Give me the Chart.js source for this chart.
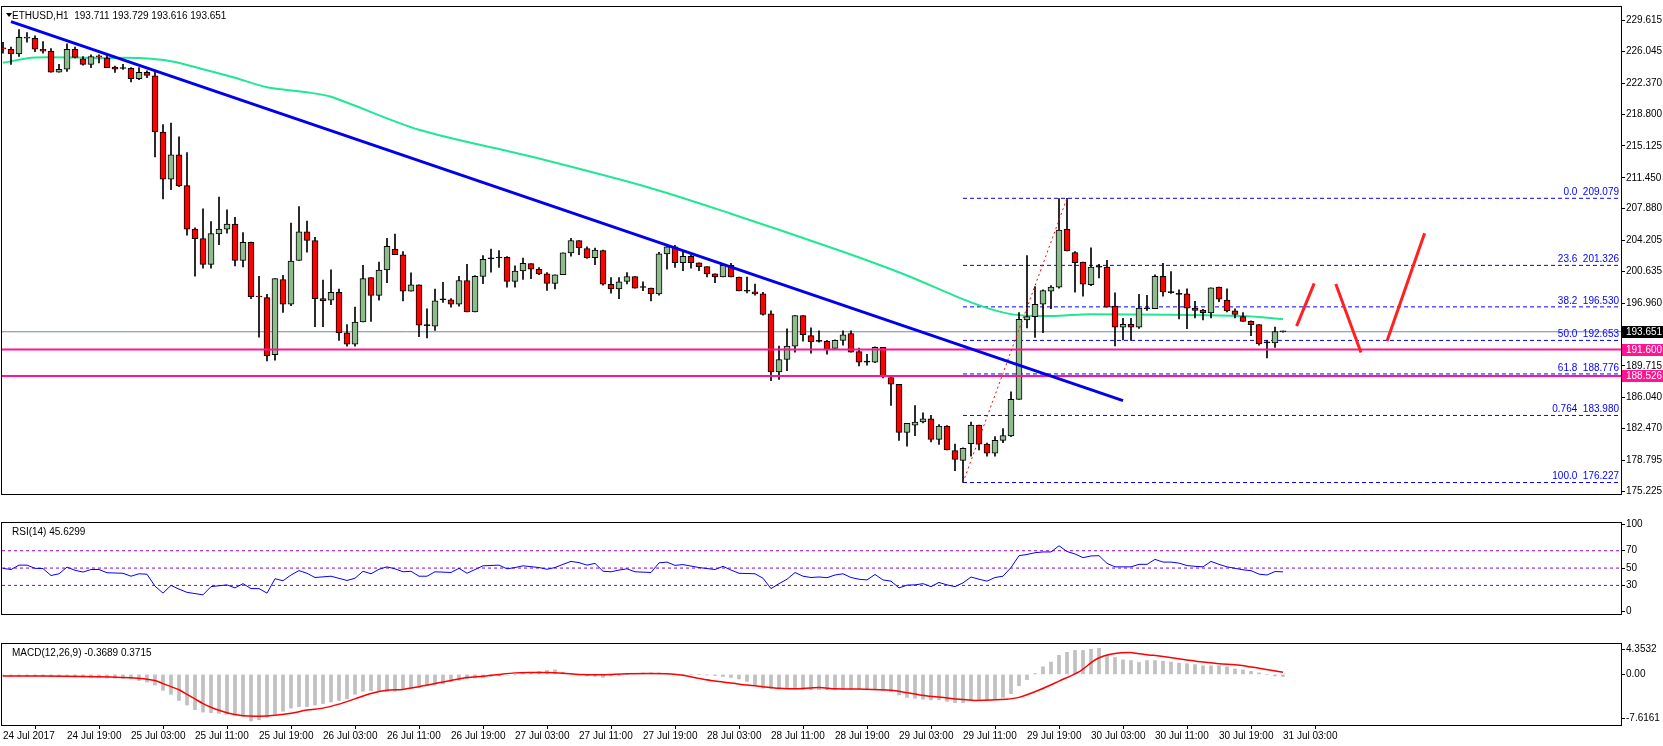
<!DOCTYPE html>
<html>
<head>
<meta charset="utf-8">
<script src="https://cdn.jsdelivr.net/npm/chart.js@4.4.1/dist/chart.umd.min.js"></script>
<style>
  body { margin: 0; background: #fff; width: 1663px; height: 746px; overflow: hidden; position: relative; }
  canvas { position: absolute; left: 0; }
</style>
</head>
<body>
<canvas id="mainChart" width="1663" height="516" style="top:0"></canvas>
<canvas id="rsiChart" width="1663" height="121" style="top:516px"></canvas>
<canvas id="macdChart" width="1663" height="109" style="top:637px"></canvas>
<script>
// ETHUSD H1, candle 0 = 24 Jul 2017 11:00
const opens = [
226.40,226.31,225.76,227.67,227.56,226.31,226.09,223.67,224.00,226.31,
225.21,224.55,225.45,225.29,224.26,224.08,224.11,222.90,223.64,223.23,
216.74,211.28,214.10,210.54,205.52,204.42,201.45,204.97,205.52,206.11,
201.89,203.98,197.71,197.60,191.00,199.69,196.83,201.89,205.19,204.20,
197.49,197.30,198.22,193.53,192.21,194.78,199.91,197.85,200.79,203.21,
202.55,198.33,199.07,194.37,194.30,197.34,197.34,196.83,199.58,195.95,
200.05,202.07,202.18,202.25,199.47,200.68,201.52,200.90,200.35,199.25,
200.24,202.77,204.20,203.28,202.22,203.03,199.14,198.59,199.47,200.02,
198.77,198.70,198.04,202.66,203.47,201.63,202.37,201.63,201.19,200.35,
199.98,201.34,199.98,198.33,198.26,198.04,195.73,189.02,190.45,191.99,
195.51,193.20,192.54,192.54,191.73,192.65,193.45,191.36,190.15,190.15,
191.84,188.36,187.59,182.01,182.86,183.22,183.59,181.21,182.75,179.92,
178.79,180.73,182.86,180.66,179.63,181.10,181.61,185.83,195.03,195.40,
196.83,198.33,198.81,205.48,202.80,201.70,199.10,201.12,201.12,196.61,
194.19,194.52,194.19,196.31,196.31,200.05,198.18,197.97,198.04,196.39,
196.17,195.84,198.81,197.30,196.06,195.40,194.85,194.48,192.36,192.36,
193.711];
const highs = [
227.12,226.57,228.59,228.22,227.85,227.19,226.39,224.55,226.94,226.57,
225.47,225.65,225.65,225.65,224.37,224.55,224.19,224.19,223.82,223.64,
217.59,217.77,216.19,214.36,205.67,207.87,206.40,209.22,207.76,206.88,
205.12,204.02,200.06,197.97,199.80,200.17,206.22,208.13,206.44,204.57,
199.62,200.82,198.59,194.48,196.50,201.34,199.91,201.70,204.45,204.93,
202.92,200.46,199.07,196.31,198.59,199.36,197.49,200.05,201.45,200.16,
202.47,203.21,203.03,202.33,201.26,202.18,201.52,201.08,200.49,200.24,
202.77,204.45,204.20,203.47,203.32,203.10,199.91,199.91,200.49,200.02,
199.43,198.70,202.84,203.65,203.65,202.99,202.55,201.63,201.19,200.35,
201.45,201.56,199.98,199.98,199.17,198.22,196.06,191.99,194.00,195.51,
195.51,194.11,193.75,192.65,192.72,193.75,193.75,191.77,191.03,191.91,
191.84,188.43,187.59,183.08,185.13,184.29,183.99,182.93,182.82,180.66,
180.25,183.22,182.86,180.80,181.54,182.45,186.71,195.87,202.47,198.88,
198.51,198.99,209.04,209.08,202.91,201.70,203.35,201.45,201.92,198.15,
195.21,195.21,197.97,197.86,200.24,201.56,200.60,198.51,198.62,197.16,
196.24,198.73,198.81,198.62,196.31,195.88,194.92,194.48,192.65,194.19,
193.729];
const lows = [
225.84,224.55,225.47,227.12,226.02,225.84,223.67,223.67,223.75,225.29,
224.48,224.19,224.74,224.19,223.64,223.97,222.54,222.79,223.01,213.85,
209.00,210.07,210.43,204.82,200.09,201.01,201.01,203.72,205.04,201.27,
201.16,197.49,193.02,190.27,190.38,195.88,196.68,201.89,202.84,194.23,
194.23,196.79,192.65,191.99,191.99,194.78,194.85,197.30,199.32,202.55,
197.23,198.33,193.09,192.94,193.82,197.05,196.50,196.61,195.95,195.95,
199.21,200.53,201.08,198.81,198.81,199.69,199.80,200.24,198.44,198.59,
200.24,202.40,202.55,202.14,201.41,199.03,198.11,197.49,199.17,198.70,
198.40,197.23,197.89,200.90,201.08,200.72,201.01,200.72,199.98,199.32,
199.98,199.98,198.37,198.15,197.89,195.58,187.99,188.14,189.16,191.29,
192.57,191.18,192.46,191.07,191.73,192.10,191.29,189.71,189.79,190.08,
188.32,185.13,181.10,180.44,181.65,183.11,180.92,180.62,180.00,177.61,
176.23,179.26,180.00,179.26,179.26,180.84,181.54,185.83,194.11,193.01,
193.56,196.31,198.70,202.99,198.22,197.78,198.99,199.87,196.50,192.02,
192.72,192.65,194.04,196.13,196.31,197.78,198.07,195.14,194.00,195.25,
195.03,195.25,197.12,195.95,195.25,194.85,193.20,192.10,190.63,191.84,
193.616];
const closes = [
226.35,225.76,227.67,227.60,226.31,226.09,223.67,224.00,226.31,225.36,
224.55,225.47,225.43,224.19,224.00,224.08,222.90,223.64,223.27,216.74,
211.28,214.10,210.54,205.52,204.42,201.45,205.01,205.52,206.11,201.89,
203.98,197.71,197.67,190.89,199.80,196.83,201.82,205.19,204.20,197.49,
197.23,198.22,193.53,192.21,194.78,199.80,197.85,200.79,203.54,202.55,
198.33,199.07,194.41,194.37,197.23,197.34,196.83,199.58,195.95,200.05,
202.03,202.07,202.18,199.47,200.68,201.56,200.90,200.35,199.25,200.24,
202.77,204.20,203.36,202.22,203.10,199.14,198.59,199.43,200.02,198.70,
198.77,198.04,202.66,203.47,201.63,202.37,201.63,201.19,200.35,199.98,
201.34,199.98,198.37,198.33,198.04,195.65,189.02,190.45,191.99,195.51,
193.31,192.50,192.54,191.62,192.65,193.31,191.29,190.15,190.15,191.84,
188.43,187.59,182.01,183.08,183.22,183.59,181.21,182.75,180.00,178.90,
180.18,182.86,180.66,179.63,181.10,181.65,185.83,195.10,195.40,196.83,
198.40,198.81,205.41,202.99,201.63,199.14,201.12,201.12,196.50,194.19,
194.52,194.19,196.39,196.31,200.05,198.26,198.18,197.97,196.39,196.13,
195.87,198.73,197.41,196.06,195.65,194.85,194.48,192.28,192.36,193.68,
193.651];

// moving average (green) read at some candles
const maIdx = [0, 4, 12, 17, 21, 25, 29, 33, 38, 41, 52, 66, 81, 91, 105, 113, 121, 126, 131, 136, 155, 160];
const maVal = [224.74, 225.36, 225.29, 225.29, 224.92, 224.0, 223.01, 221.91, 221.33, 220.81, 217.0, 213.9, 210.25, 207.3, 202.9, 200.16, 197.05, 195.69, 195.47, 195.69, 195.47, 195.1];

// trend line, support lines, fibo levels
const trendIdx = [1, 140];
const trendVal = [229.5, 185.7];
const supports = [191.600, 188.526];
const lastPrice = 193.651;
const fibNames = ['0.0', '23.6', '38.2', '50.0', '61.8', '0.764', '100.0'];
const fibLevels = [209.079, 201.326, 196.530, 192.653, 188.776, 183.980, 176.227];
const fibFrom = 120;
const swingIdx = [120, 133];
const swingVal = [176.227, 209.079];
// hand drawn scenario
const pathIdx = [[161.7, 163.9], [166.6, 169.75], [173.0, 177.7]];
const pathVal = [[194.30, 199.25], [199.18, 191.26], [192.58, 205.04]];

const priceTicks = [229.615, 226.045, 222.370, 218.800, 215.125, 211.450, 207.880, 204.205, 200.635, 196.960, 189.715, 186.040, 182.470, 178.795, 175.225];

// RSI(14)
const rsiIdx = [0,1,2,3,4,5,6,7,8,9,10,11,12,13,15,16,17,18,19,20,21,22,23,25,26,28,29,30,31,32,33,34,35,36,37,38,39,41,43,44,45,46,47,48,49,50,51,52,53,54,56,57,58,60,62,63,64,65,67,68,69,70,71,72,73,74,75,76,77,78,79,81,82,83,84,85,87,89,90,91,92,94,95,96,97,98,99,100,101,102,103,104,105,106,107,108,109,110,111,112,113,114,115,116,117,118,119,120,121,122,123,124,125,126,127,128,129,130,131,132,133,134,135,136,137,138,139,140,141,142,143,144,145,146,147,148,149,150,151,152,153,154,155,156,157,158,159,160];
const rsiVal = [49.7,48.3,53.4,53.4,49.7,49.4,41.4,43.4,51.1,47.4,45.4,48.3,48.3,44.6,44.0,40.6,43.4,42.9,29.1,21.1,30.0,25.7,22.0,19.1,28.6,30.6,27.1,32.0,26.3,26.3,21.1,37.7,35.4,42.0,47.1,44.0,39.1,40.6,35.7,38.3,46.3,43.4,48.6,51.4,49.1,45.7,46.3,40.6,40.6,45.7,44.9,49.7,44.0,52.6,53.4,49.1,50.6,52.6,50.6,48.6,50.6,54.3,57.7,56.3,53.4,55.4,46.3,45.7,47.7,49.1,45.7,44.9,56.0,56.9,53.1,54.0,50.6,48.3,52.0,47.7,44.0,43.4,38.3,26.3,32.0,37.1,44.9,40.6,39.1,39.7,38.9,42.0,43.4,39.1,37.1,36.3,42.6,36.3,34.9,27.1,30.3,30.6,32.0,28.6,33.4,30.6,28.6,32.9,39.7,37.1,34.9,39.1,40.6,50.6,64.3,65.7,67.7,68.6,68.6,75.7,69.1,66.3,62.0,64.0,64.3,55.4,51.4,51.4,51.4,54.3,54.3,60.0,56.9,56.9,55.7,52.9,52.0,51.4,57.7,54.3,51.4,49.7,48.0,47.0,43.0,42.0,46.0,45.63];
const rsiLevels = [70, 50, 30];

// MACD(12,26,9): main as histogram, signal as line
const macdMain = [
-0.30,-0.30,-0.30,-0.35,-0.35,-0.40,-0.40,-0.40,-0.40,-0.45,
-0.45,-0.50,-0.50,-0.63,-0.65,-0.69,-0.79,-1.06,-1.32,-1.85,
-2.75,-3.44,-4.50,-5.29,-6.08,-6.51,-6.61,-6.72,-6.88,-7.04,
-7.25,-8.04,-7.83,-7.41,-6.88,-6.35,-5.82,-5.56,-5.56,-5.29,
-5.03,-4.76,-4.50,-4.23,-3.44,-2.91,-2.80,-2.80,-2.91,-2.91,
-2.65,-2.38,-2.22,-2.01,-1.85,-1.59,-1.22,-1.06,-0.79,-0.63,
-0.53,-0.37,-0.26,-0.11,-0.05,0.16,0.37,0.53,0.69,0.79,
0.37,0.16,-0.05,-0.26,-0.37,-0.53,-0.26,-0.16,0.00,0.16,
0.26,0.26,0.26,0.11,0.00,-0.05,0.00,0.00,-0.11,-0.21,
-0.37,-0.53,-0.79,-1.22,-1.85,-2.38,-2.49,-2.54,-2.38,-2.54,
-2.59,-2.65,-2.65,-2.65,-2.65,-2.54,-2.54,-2.54,-2.65,-2.65,
-2.80,-2.91,-3.54,-3.97,-4.13,-4.29,-4.39,-4.39,-4.66,-4.87,
-4.87,-4.50,-4.50,-4.50,-4.34,-3.97,-3.33,-1.96,-0.90,0.16,
1.32,2.12,3.28,3.81,4.13,4.13,4.34,4.50,3.33,2.91,
2.49,2.38,2.06,2.38,2.38,2.28,2.12,1.96,1.85,1.69,
1.48,1.48,1.48,1.32,0.95,0.79,0.53,0.26,0.00,-0.26,
-0.3689];
const sigIdx = [0,10,16,19,20,21,22,23,24,25,26,27,28,29,30,32,34,36,38,40,42,44,46,48,50,52,54,56,58,60,62,64,66,68,70,72,75,78,83,85,87,89,91,93,95,97,99,102,104,107,111,113,114.6,118,120,121.7,125.4,127,129.6,132,134.6,136.7,138.8,140.9,142,143.8,145.9,148,150,152,154.6,157,160];
const sigVal = [-0.26,-0.35,-0.6,-1.06,-1.59,-2.12,-2.65,-3.44,-4.23,-5.03,-5.66,-6.19,-6.61,-6.93,-7.14,-7.2,-7.04,-6.72,-6.14,-5.82,-5.13,-4.23,-3.31,-2.75,-2.59,-2.12,-1.59,-1.06,-0.53,-0.32,0,0.26,0.32,0.32,0.21,0,-0.05,0.11,0.11,-0.16,-0.69,-1.16,-1.48,-1.85,-2.12,-2.38,-2.49,-2.28,-2.49,-2.54,-2.75,-3.17,-3.54,-4.07,-4.34,-4.5,-4.29,-3.97,-2.65,-1.16,0.53,2.65,3.54,3.76,3.54,3.28,2.91,2.49,2.12,1.85,1.59,1.06,0.3715];

const timeLabels = ['24 Jul 2017','24 Jul 19:00','25 Jul 03:00','25 Jul 11:00','25 Jul 19:00','26 Jul 03:00','26 Jul 11:00','26 Jul 19:00','27 Jul 03:00','27 Jul 11:00','27 Jul 19:00','28 Jul 03:00','28 Jul 11:00','28 Jul 19:00','29 Jul 03:00','29 Jul 11:00','29 Jul 19:00','30 Jul 03:00','30 Jul 11:00','30 Jul 19:00','31 Jul 03:00'];

Chart.defaults.font.family = '"Liberation Sans", Arial, sans-serif';
Chart.defaults.font.size = 10;
Chart.defaults.color = '#000';
Chart.defaults.animation = false;

const X_MIN = -0.125, X_MAX = 202.25;
const FONT = '10px "Liberation Sans", Arial, sans-serif';

function pts(xs, ys) { return xs.map((x, i) => ({ x: x, y: ys[i] })); }
function line(data, color, width, extra) {
	return Object.assign({ type: 'line', data: data, borderColor: color, borderWidth: width, pointRadius: 0, fill: false, order: 0 }, extra || {});
}
function xAxis(show) {
	return {
		type: 'linear', min: X_MIN, max: X_MAX, display: show, offset: false,
		grid: { display: show, drawOnChartArea: false, color: '#000', tickLength: 4 },
		border: { display: false },
		afterBuildTicks: s => { s.ticks = timeLabels.map((t, i) => ({ value: i * 8 })); },
		afterFit: s => { s.height = 21; },
		ticks: { align: 'start', maxRotation: 0, autoSkip: false, padding: 1, callback: v => timeLabels[v / 8] }
	};
}
function yAxis(min, max, ticks, fmt) {
	return {
		position: 'right', min: min, max: max,
		grid: { drawOnChartArea: false, color: '#000', tickLength: 4 },
		border: { display: true, color: '#000' },
		afterBuildTicks: s => { s.ticks = ticks.map(v => ({ value: v })); },
		afterFit: s => { s.width = 42; },
		ticks: { padding: 1, autoSkip: false, callback: fmt }
	};
}
// frame + texts
function frame(texts) {
	return {
		id: 'frame',
		afterDraw(chart) {
			const { ctx, chartArea: a } = chart;
			ctx.save();
			ctx.strokeStyle = '#000';
			ctx.lineWidth = 1;
			ctx.strokeRect(a.left - 0.5, a.top - 0.5, a.right - a.left + 1, a.bottom - a.top + 1);
			ctx.font = FONT;
			ctx.fillStyle = '#000';
			ctx.textBaseline = 'middle';
			ctx.fillText(texts, a.left + 10, a.top + 9);
			ctx.restore();
		}
	};
}

const upColor = '#8fbc8f', downColor = '#ff0000';
const candleColors = closes.map((c, i) => c > opens[i] ? upColor : (c < opens[i] ? downColor : '#000'));

const mainExtras = {
	id: 'mainExtras',
	afterDraw(chart) {
		const { ctx, chartArea: a, scales } = chart;
		const y = scales.y;
		ctx.save();
		// triangle before title
		ctx.fillStyle = '#000';
		ctx.beginPath();
		ctx.moveTo(a.left + 4, a.top + 6); ctx.lineTo(a.left + 10, a.top + 6); ctx.lineTo(a.left + 7, a.top + 10);
		ctx.fill();
		// fibo labels
		ctx.font = FONT;
		ctx.fillStyle = '#0000ff';
		ctx.textAlign = 'right';
		ctx.textBaseline = 'bottom';
		fibLevels.forEach((v, i) => {
			ctx.fillText(fibNames[i] + '  ' + v.toFixed(3), a.right - 2, y.getPixelForValue(v) - 1);
		});
		// price boxes on the axis
		ctx.textAlign = 'left';
		ctx.textBaseline = 'middle';
		const box = (v, bg) => {
			const py = Math.round(y.getPixelForValue(v));
			ctx.fillStyle = bg;
			ctx.fillRect(a.right + 1, py - 6, 41, 12);
			ctx.fillStyle = '#fff';
			ctx.fillText(v.toFixed(3), a.right + 5, py);
		};
		box(lastPrice, '#000');
		supports.forEach(v => box(v, '#ff1493'));
		ctx.restore();
	}
};

const mainDatasets = [
	{ type: 'bar', data: lows.map((l, i) => ({ x: i, y: [l, highs[i]] })), backgroundColor: '#000', barThickness: 1, grouped: false, order: 3 },
	{ type: 'bar', data: opens.map((o, i) => ({ x: i, y: [o, closes[i]] })), backgroundColor: candleColors, borderColor: '#000', borderWidth: 1, borderSkipped: false, barThickness: 6, minBarLength: 1, grouped: false, order: 2 },
	line(pts(maIdx, maVal), '#1ee893', 2, { tension: 0.3, order: 4 }),
	line(pts(trendIdx, trendVal), '#0000ee', 3),
	line(pts([X_MIN, X_MAX], [lastPrice, lastPrice]), '#778899', 1, { order: 5 }),
	line(pts(swingIdx, swingVal), '#ff0000', 1, { borderDash: [2, 3] })
];
supports.forEach(v => mainDatasets.push(line(pts([X_MIN, X_MAX], [v, v]), '#ff1493', 2, { order: 1 })));
fibLevels.forEach(v => mainDatasets.push(line(pts([fibFrom, X_MAX], [v, v]), '#0000ff', 1, { borderDash: [4, 3], order: 5 })));
pathIdx.forEach((xs, k) => mainDatasets.push(line(pts(xs, pathVal[k]), '#ff2020', 3)));

new Chart(document.getElementById('mainChart'), {
	type: 'bar',
	data: { datasets: mainDatasets },
	options: {
		responsive: false, devicePixelRatio: 1,
		layout: { padding: { top: 3, bottom: 1, left: 2, right: 0 } },
		plugins: { legend: { display: false }, tooltip: { enabled: false } },
		scales: {
			x: xAxis(false),
			y: yAxis(174.9, 231.19, priceTicks, v => v.toFixed(3))
		}
	},
	plugins: [frame('ETHUSD,H1  193.711 193.729 193.616 193.651'), mainExtras]
});

const rsiDatasets = [line(pts(rsiIdx, rsiVal), '#0000ff', 1)];
rsiLevels.forEach(v => rsiDatasets.push(line(pts([X_MIN, X_MAX], [v, v]), '#9400d3', 1, { borderDash: [3, 3] })));
new Chart(document.getElementById('rsiChart'), {
	type: 'line',
	data: { datasets: rsiDatasets },
	options: {
		responsive: false, devicePixelRatio: 1,
		layout: { padding: { top: 3, bottom: 2, left: 2, right: 0 } },
		plugins: { legend: { display: false }, tooltip: { enabled: false } },
		scales: {
			x: xAxis(false),
			y: yAxis(-3, 102, [100, 70, 50, 30, 0], v => String(v))
		}
	},
	plugins: [frame('RSI(14) 45.6299')]
});

new Chart(document.getElementById('macdChart'), {
	type: 'bar',
	data: {
		datasets: [
			{ type: 'bar', data: macdMain.map((v, i) => ({ x: i, y: v })), backgroundColor: '#c0c0c0', barThickness: 3, grouped: false, order: 2 },
			line(pts(sigIdx, sigVal), '#ff0000', 1.5, { tension: 0.3 })
		]
	},
	options: {
		responsive: false, devicePixelRatio: 1,
		layout: { padding: { top: 1, bottom: 0, left: 2, right: 0 } },
		plugins: { legend: { display: false }, tooltip: { enabled: false } },
		scales: {
			x: xAxis(true),
			y: yAxis(-8.73, 5.24, [4.3532, 0, -7.6161], v => v === 0 ? '0.00' : String(v))
		}
	},
	plugins: [frame('MACD(12,26,9) -0.3689 0.3715')]
});
</script>
</body>
</html>
